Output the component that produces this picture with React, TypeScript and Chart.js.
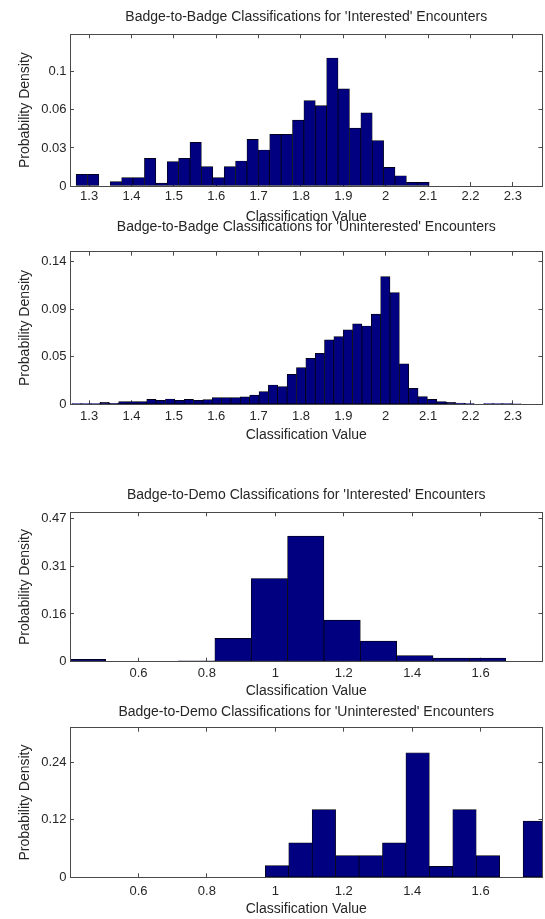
import React, { useEffect, useRef } from "react";
import { Chart, registerables } from "chart.js";

Chart.register(...registerables);

// ---------------- Data ----------------
const b2bInterestedBinCenters = [
  1.2828, 1.3097, 1.3366, 1.3634, 1.3903, 1.4172, 1.4441, 1.4709, 1.4978, 1.5247,
  1.5516, 1.5785, 1.6054, 1.6322, 1.6591, 1.686, 1.7129, 1.7397, 1.7666, 1.7935,
  1.8204, 1.8473, 1.8741, 1.901, 1.9279, 1.9548, 1.9817, 2.0085, 2.0354, 2.0623,
  2.0892,
];
const b2bInterestedDensity = [
  0.0102, 0.0102, 0, 0.0038, 0.0073, 0.0073, 0.0242, 0.0026, 0.0213, 0.0242,
  0.0382, 0.0169, 0.0073, 0.0169, 0.0219, 0.0408, 0.0315, 0.0452, 0.0452, 0.0577,
  0.0747, 0.0703, 0.112, 0.0849, 0.0507, 0.0639, 0.0397, 0.0163, 0.009, 0.0032,
  0.0032,
];

const b2bUninterestedBinCenters = [
  1.2704, 1.2925, 1.3146, 1.3367, 1.3588, 1.3808, 1.4029, 1.425, 1.4471, 1.4692,
  1.4913, 1.5133, 1.5354, 1.5575, 1.5796, 1.6017, 1.6237, 1.6458, 1.6679, 1.69,
  1.7121, 1.7341, 1.7562, 1.7783, 1.8004, 1.8225, 1.8446, 1.8666, 1.8887, 1.9108,
  1.9329, 1.955, 1.977, 1.9991, 2.0212, 2.0433, 2.0654, 2.0874, 2.1095, 2.1316,
  2.1537, 2.1758, 2.1979, 2.2199, 2.242, 2.2641, 2.2862, 2.3083,
];
const b2bUninterestedDensity = [
  0.0007, 0.0007, 0.0007, 0.002, 0.001, 0.0026, 0.0026, 0.0026, 0.0049, 0.0039,
  0.0052, 0.0039, 0.0049, 0.0039, 0.0045, 0.0065, 0.0065, 0.0065, 0.0072, 0.0091,
  0.0124, 0.0189, 0.0173, 0.0294, 0.0359, 0.045, 0.0499, 0.063, 0.0663, 0.0728,
  0.0787, 0.0767, 0.0884, 0.125, 0.1093, 0.0395, 0.0157, 0.0075, 0.0049, 0.0026,
  0.002, 0.0013, 0.0007, 0, 0.0007, 0.0007, 0.0007, 0.0005,
];

const b2dInterestedBinCenters = [
  0.4512, 0.5575, 0.6638, 0.7701, 0.8764, 0.9827, 1.089, 1.1953, 1.3016, 1.4079,
  1.5142, 1.6205,
];
const b2dInterestedDensity = [
  0.0077, 0, 0, 0.003, 0.0765, 0.273, 0.412, 0.1366, 0.0678, 0.02, 0.012, 0.012,
];

const b2dUninterestedBinCenters = [
  1.005, 1.0735, 1.142, 1.2105, 1.279, 1.3475, 1.416, 1.4845, 1.553, 1.6215,
  1.69, 1.7585,
];
const b2dUninterestedDensity = [
  0.0244, 0.0717, 0.141, 0.0452, 0.0452, 0.0717, 0.2596, 0.023, 0.141, 0.0452,
  0, 0.117,
];

const b2bXTickValues = [1.3, 1.4, 1.5, 1.6, 1.7, 1.8, 1.9, 2, 2.1, 2.2, 2.3];
const b2bXTickLabels = ["1.3", "1.4", "1.5", "1.6", "1.7", "1.8", "1.9", "2", "2.1", "2.2", "2.3"];
const b2dXTickValues = [0.6, 0.8, 1, 1.2, 1.4, 1.6];
const b2dXTickLabels = ["0.6", "0.8", "1", "1.2", "1.4", "1.6"];

const b2bInterestedYTickValues = [0, 0.0333, 0.0667, 0.1];
const b2bInterestedYTickLabels = ["0", "0.03", "0.06", "0.1"];
const b2bUninterestedYTickValues = [0, 0.0467, 0.0933, 0.14];
const b2bUninterestedYTickLabels = ["0", "0.05", "0.09", "0.14"];
const b2dInterestedYTickValues = [0, 0.1567, 0.3133, 0.47];
const b2dInterestedYTickLabels = ["0", "0.16", "0.31", "0.47"];
const b2dUninterestedYTickValues = [0, 0.12, 0.24];
const b2dUninterestedYTickLabels = ["0", "0.12", "0.24"];

const panelTitles = [
  "Badge-to-Badge Classifications for 'Interested' Encounters",
  "Badge-to-Badge Classifications for 'Uninterested' Encounters",
  "Badge-to-Demo Classifications for 'Interested' Encounters",
  "Badge-to-Demo Classifications for 'Uninterested' Encounters",
];
const xAxisTitle = "Classification Value";
const yAxisTitle = "Probability Density";

// ---------------- Styling / layout ----------------
const FONT = "'Liberation Sans', Arial, Helvetica, sans-serif";
const TITLE_SIZE = 14;
const TICK_SIZE = 13;
const LH = 1.2;
const PAGE_W = 545;
const PAGE_H = 919;
const PLOT_LEFT = 70;
const PLOT_RIGHT = 542.5;
const TICK_LEN = 4;
const Y_TICK_PAD = 7.5;
const Y_TITLE_X = 25;
const BAR_COLOR = "rgb(0,0,128)";
const BAR_EDGE = "#000000";
const AXIS_COLOR = "#4a4a4a";
const TEXT_COLOR = "#262626";

type Layout = { titleY: number; plotTop: number; plotBottom: number; tickY: number; xTitleY: number };

const PANEL_LAYOUT: Layout[] = [
  { titleY: 17.3, plotTop: 34.3, plotBottom: 186, tickY: 196.5, xTitleY: 216.7 },
  { titleY: 227.5, plotTop: 251.7, plotBottom: 404.3, tickY: 416.7, xTitleY: 435 },
  { titleY: 495, plotTop: 512.3, plotBottom: 661.7, tickY: 673.3, xTitleY: 691.5 },
  { titleY: 712.3, plotTop: 727.7, plotBottom: 877.3, tickY: 891, xTitleY: 909.3 },
];

type Spec = {
  title: string;
  centers: number[];
  values: number[];
  xMin: number;
  xMax: number;
  xTicks: number[];
  xTickLabels: string[];
  yMax: number;
  yTicks: number[];
  yTickLabels: string[];
};

const PANELS: Spec[] = [
  {
    title: panelTitles[0],
    centers: b2bInterestedBinCenters,
    values: b2bInterestedDensity,
    xMin: 1.255,
    xMax: 2.37,
    xTicks: b2bXTickValues,
    xTickLabels: b2bXTickLabels,
    yMax: 0.1327,
    yTicks: b2bInterestedYTickValues,
    yTickLabels: b2bInterestedYTickLabels,
  },
  {
    title: panelTitles[1],
    centers: b2bUninterestedBinCenters,
    values: b2bUninterestedDensity,
    xMin: 1.255,
    xMax: 2.37,
    xTicks: b2bXTickValues,
    xTickLabels: b2bXTickLabels,
    yMax: 0.1494,
    yTicks: b2bUninterestedYTickValues,
    yTickLabels: b2bUninterestedYTickLabels,
  },
  {
    title: panelTitles[2],
    centers: b2dInterestedBinCenters,
    values: b2dInterestedDensity,
    xMin: 0.3998,
    xMax: 1.781,
    xTicks: b2dXTickValues,
    xTickLabels: b2dXTickLabels,
    yMax: 0.49,
    yTicks: b2dInterestedYTickValues,
    yTickLabels: b2dInterestedYTickLabels,
  },
  {
    title: panelTitles[3],
    centers: b2dUninterestedBinCenters,
    values: b2dUninterestedDensity,
    xMin: 0.3998,
    xMax: 1.781,
    xTicks: b2dXTickValues,
    xTickLabels: b2dXTickLabels,
    yMax: 0.312,
    yTicks: b2dUninterestedYTickValues,
    yTickLabels: b2dUninterestedYTickLabels,
  },
];

function computeGeom(L: Layout) {
  const tlh = TITLE_SIZE * LH;
  const klh = TICK_SIZE * LH;
  const top = Math.floor(L.titleY - tlh / 2 - 2);
  const bottom = Math.ceil(L.xTitleY + tlh / 2 + 1);
  const h = bottom - top;
  const titlePadTop = L.titleY - top - tlh / 2;
  const titlePadBottom = L.plotTop - top - titlePadTop - tlh;
  const xAxisH = bottom - L.plotBottom;
  const xTickPad = L.tickY - L.plotBottom + TICK_LEN - klh / 2;
  const xTitlePadBottom = bottom - L.xTitleY - tlh / 2;
  return { top, h, titlePadTop, titlePadBottom, xAxisH, xTickPad, xTitlePadBottom };
}

const fixedTicks = (values: number[]) => (scale: any) => {
  scale.ticks = values.map((v) => ({ value: v }));
};

function buildConfig(spec: Spec, g: ReturnType<typeof computeGeom>): any {
  const tickFont = { family: FONT, size: TICK_SIZE, lineHeight: LH };
  const titleFont = { family: FONT, size: TITLE_SIZE, lineHeight: LH, weight: "normal" as const };
  const gridOpts = {
    display: true,
    drawOnChartArea: false,
    drawTicks: true,
    tickLength: -TICK_LEN,
    tickColor: AXIS_COLOR,
    tickWidth: 1,
    offset: false,
  };
  const borderOpts = { display: true, color: AXIS_COLOR, width: 1, z: 1 };
  return {
    type: "bar",
    data: {
      datasets: [
        {
          data: spec.centers.map((x, i) => ({ x, y: spec.values[i] })),
          backgroundColor: BAR_COLOR,
          borderColor: BAR_EDGE,
          borderWidth: 0.7,
          borderSkipped: false,
          barPercentage: 1,
          categoryPercentage: 1,
          grouped: false,
        },
      ],
    },
    options: {
      responsive: false,
      animation: false,
      events: [],
      layout: { padding: { left: 0, right: PAGE_W - PLOT_RIGHT, top: 0, bottom: 0 } },
      plugins: {
        legend: { display: false },
        tooltip: { enabled: false },
        title: {
          display: true,
          text: spec.title,
          fullSize: false,
          align: "center",
          color: TEXT_COLOR,
          font: titleFont,
          padding: { top: g.titlePadTop, bottom: g.titlePadBottom },
        },
      },
      scales: {
        x: {
          type: "linear",
          position: "bottom",
          min: spec.xMin,
          max: spec.xMax,
          offset: false,
          afterBuildTicks: fixedTicks(spec.xTicks),
          afterFit: (s: any) => {
            s.height = g.xAxisH;
          },
          grid: gridOpts,
          border: borderOpts,
          ticks: {
            autoSkip: false,
            maxRotation: 0,
            minRotation: 0,
            padding: g.xTickPad,
            color: TEXT_COLOR,
            font: tickFont,
            callback: (_v: any, i: number) => spec.xTickLabels[i],
          },
          title: {
            display: true,
            text: xAxisTitle,
            color: TEXT_COLOR,
            font: titleFont,
            padding: { top: 0, bottom: g.xTitlePadBottom },
          },
        },
        x2: {
          type: "linear",
          position: "top",
          min: spec.xMin,
          max: spec.xMax,
          offset: false,
          afterBuildTicks: fixedTicks(spec.xTicks),
          afterFit: (s: any) => {
            s.height = 0;
          },
          grid: gridOpts,
          border: borderOpts,
          ticks: { display: false },
          title: { display: false },
        },
        y: {
          type: "linear",
          position: "left",
          min: 0,
          max: spec.yMax,
          afterBuildTicks: fixedTicks(spec.yTicks),
          afterFit: (s: any) => {
            s.width = PLOT_LEFT;
          },
          grid: gridOpts,
          border: borderOpts,
          ticks: {
            autoSkip: false,
            padding: Y_TICK_PAD,
            color: TEXT_COLOR,
            font: tickFont,
            callback: (_v: any, i: number) => spec.yTickLabels[i],
          },
          title: {
            display: true,
            text: yAxisTitle,
            color: TEXT_COLOR,
            font: titleFont,
            padding: { top: Y_TITLE_X - (TITLE_SIZE * LH) / 2, bottom: 0 },
          },
        },
        y2: {
          type: "linear",
          position: "right",
          min: 0,
          max: spec.yMax,
          afterBuildTicks: fixedTicks(spec.yTicks),
          afterFit: (s: any) => {
            s.width = 0;
          },
          grid: gridOpts,
          border: borderOpts,
          ticks: { display: false },
          title: { display: false },
        },
      },
    },
  };
}

function HistPanel({ spec, layout }: { spec: Spec; layout: Layout }) {
  const ref = useRef<HTMLCanvasElement>(null);
  const g = computeGeom(layout);
  useEffect(() => {
    if (!ref.current) return;
    const chart = new Chart(ref.current, buildConfig(spec, g));
    return () => chart.destroy();
  }, []);
  return (
    <canvas
      ref={ref}
      width={PAGE_W}
      height={g.h}
      style={{ position: "absolute", left: 0, top: g.top, display: "block", width: PAGE_W, height: g.h }}
    />
  );
}

export default function App() {
  return (
    <div
      style={{
        position: "absolute",
        left: 0,
        top: 0,
        width: PAGE_W,
        height: PAGE_H,
        background: "#ffffff",
        overflow: "hidden",
      }}
    >
      {PANELS.map((spec, i) => (
        <HistPanel key={i} spec={spec} layout={PANEL_LAYOUT[i]} />
      ))}
    </div>
  );
}
